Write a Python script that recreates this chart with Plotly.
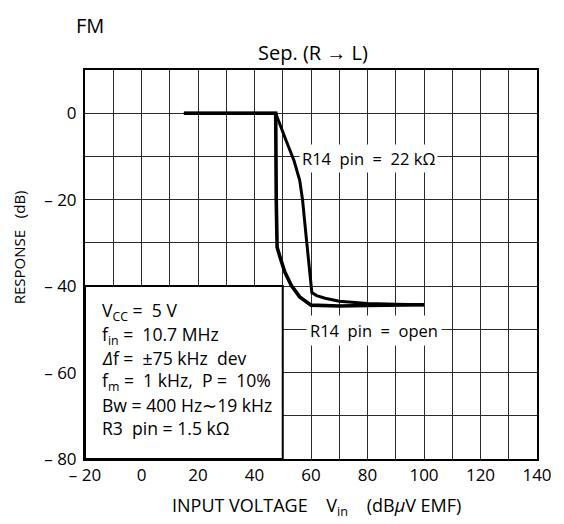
import plotly.graph_objects as go

# ---- data ----
vin_22k = [15, 47.5, 51, 54, 56, 57, 58.2, 59.3, 60.3, 62, 65, 70, 80, 90, 100]
resp_22k = [0, 0, -6, -11, -15.5, -20, -28, -35.5, -41.5, -42.2, -42.8, -43.5, -44, -44.2, -44.3]
vin_open = [15, 47.5, 47.7, 48, 49, 50.7, 53, 56, 60, 65, 70, 80, 90, 100]
resp_open = [0, 0, -20, -31, -33.2, -36.7, -39.8, -42.5, -44.4, -44.6, -44.6, -44.5, -44.4, -44.3]

x_tickvals = [-20, 0, 20, 40, 60, 80, 100, 120, 140]
x_ticktext = ["\u2013 20", "0", "20", "40", "60", "80", "100", "120", "140"]
x_gridvals = list(range(-20, 141, 10))
y_tickvals = [-80, -60, -40, -20, 0]
y_ticktext = ["\u2013 80", "\u2013 60", "\u2013 40", "\u2013 20", "0"]
y_gridvals = list(range(-80, 11, 10))

label_22k = "R14\u00a0 pin\u00a0 =\u00a0 22 k\u03a9"
label_open = "R14\u00a0 pin\u00a0 =\u00a0 open"
cond_lines = [
    "V<sub>CC</sub> =\u00a0 5 V",
    "f<sub>in</sub> =\u00a0 10.7 MHz",
    "<i>\u0394</i>f = \u00a0\u00b175 kHz\u00a0 dev",
    "f<sub>m</sub> =\u00a0 1 kHz, \u00a0P =\u00a0 10%",
    "Bw = 400 Hz\u223c19 kHz",
    "R3\u00a0 pin = 1.5 k\u03a9",
]

FONT = "Open Sans"
OFF = 8  # page body margin
W, H = 564 - OFF, 524 - OFF
L, R, T, B = 85 - OFF, 15, 70 - OFF, 65
GRID = "#2a2a2a"

fig = go.Figure()
fig.add_trace(go.Scatter(x=vin_22k, y=resp_22k, mode="lines",
                         line=dict(color="black", width=3), showlegend=False))
fig.add_trace(go.Scatter(x=vin_open, y=resp_open, mode="lines",
                         line=dict(color="black", width=3.6), showlegend=False))

axis_common = dict(showgrid=True, gridcolor=GRID, gridwidth=1,
                   showline=True, linecolor="black", linewidth=2, mirror=True,
                   zeroline=False, ticks="", tickfont=dict(family=FONT, size=17, color="black"))
fig.update_xaxes(range=[-20, 140], tickvals=x_tickvals, ticktext=x_ticktext,
                 minor=dict(tickvals=x_gridvals, showgrid=True, gridcolor=GRID, gridwidth=1, ticks=""),
                 **axis_common)
fig.update_yaxes(range=[-80, 10], tickvals=y_tickvals, ticktext=y_ticktext, ticklabelstandoff=3,
                 minor=dict(tickvals=y_gridvals, showgrid=True, gridcolor=GRID, gridwidth=1, ticks=""),
                 **axis_common)

# conditions box
fig.add_shape(type="rect", xref="x", yref="y", x0=-20, x1=50, y0=-80, y1=-40,
              fillcolor="white", line=dict(color="black", width=2), layer="above")

ann = []
def px2y(py):
    return -(py - 113.2) / 4.322

row_px = [311.7, 335.0, 358.3, 381.6, 404.9, 428.2]
for t, py in zip(cond_lines, row_px):
    ann.append(dict(x=-14.6, y=px2y(py), xref="x", yref="y", text=t, showarrow=False,
                    xanchor="left", yanchor="middle",
                    font=dict(family=FONT, size=17.6, color="black")))

ann.append(dict(x=80.3, y=-10.4, xref="x", yref="y", text=label_22k, showarrow=False,
                bgcolor="white", borderpad=2, font=dict(family=FONT, size=16.5, color="black")))
ann.append(dict(x=82.3, y=-50.3, xref="x", yref="y", text=label_open, showarrow=False,
                bgcolor="white", borderpad=3, font=dict(family=FONT, size=16.5, color="black")))

pw, ph = 464, 389
def pxp(px):  # window px -> paper
    return (px - 85) / pw
def pyp(py):
    return (459 - py) / ph

ann.append(dict(x=pxp(90), y=pyp(25), xref="paper", yref="paper", text="FM", showarrow=False,
                xanchor="center", yanchor="middle", font=dict(family=FONT, size=20, color="black")))
ann.append(dict(x=pxp(319), y=pyp(53), xref="paper", yref="paper", text="Sep. (R \u2192 L)",
                showarrow=False, xanchor="center", yanchor="middle",
                font=dict(family=FONT, size=20, color="black")))
ann.append(dict(x=pxp(323), y=pyp(507), xref="paper", yref="paper",
                text="INPUT VOLTAGE\u00a0\u00a0\u00a0 V<sub>in</sub>\u00a0\u00a0\u00a0 (dB<i>\u03bc</i>V EMF)",
                showarrow=False, xanchor="center", yanchor="middle",
                font=dict(family=FONT, size=18, color="black")))
ann.append(dict(x=pxp(17), y=pyp(247.5), xref="paper", yref="paper",
                text="RESPONSE\u00a0\u00a0 (dB)", textangle=-90,
                showarrow=False, xanchor="center", yanchor="middle",
                font=dict(family=FONT, size=15, color="black")))

fig.update_layout(width=W, height=H, margin=dict(l=L, r=R, t=T, b=B),
                  paper_bgcolor="white", plot_bgcolor="white", annotations=ann,
                  font=dict(family=FONT, color="black"))

fig.write_html("out.html")
